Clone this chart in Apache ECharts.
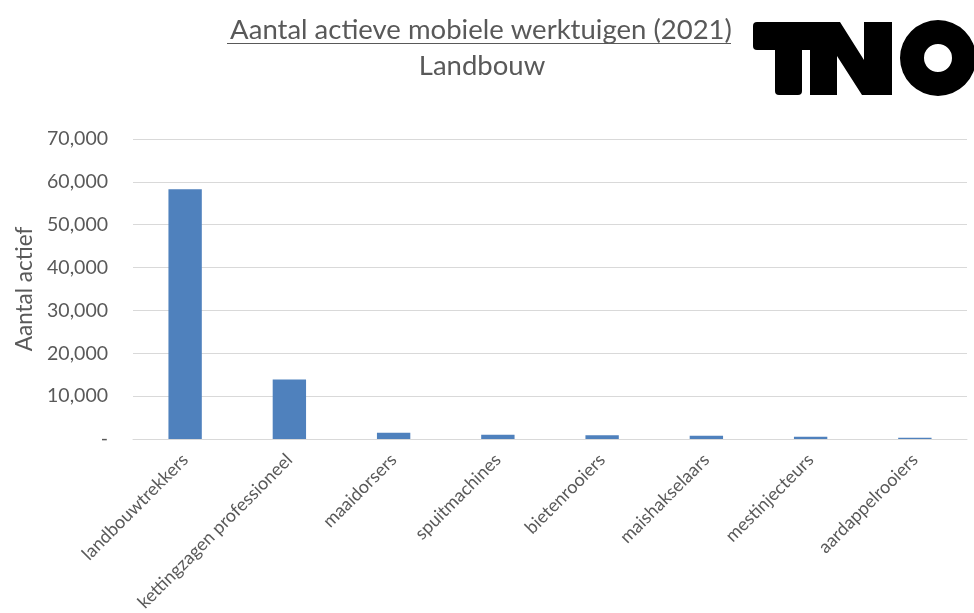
<!DOCTYPE html>
<html>
<head>
<meta charset="utf-8">
<script src="https://cdn.jsdelivr.net/npm/echarts@6/dist/echarts.min.js"></script>
<style>
  html, body { margin: 0; padding: 0; background: #fff; }
  #chart { width: 974px; height: 613px; }
</style>
</head>
<body>
<div id="chart"></div>
<script>
// Machine categories (agriculture)
const categories = [
  'landbouwtrekkers',
  'kettingzagen professioneel',
  'maaidorsers',
  'spuitmachines',
  'bietenrooiers',
  'maishakselaars',
  'mestinjecteurs',
  'aardappelrooiers'
];

// Number of active machines per category, 2021
const activeCounts = [58300, 13900, 1450, 1000, 850, 750, 550, 300];

// Value axis ticks
const yTicks = [0, 10000, 20000, 30000, 40000, 50000, 60000, 70000];

const titleText = 'Aantal actieve mobiele werktuigen (2021)';
const subtitleText = 'Landbouw';
const yAxisName = 'Aantal actief';

const FONT = 'Lato, "Open Sans", sans-serif';
const TEXT_COLOR = '#595959';

const chart = echarts.init(document.getElementById('chart'), null, { renderer: 'canvas' });

function fmtTick(v) {
  if (v === 0) return '-';
  return v.toLocaleString('en-US');
}

chart.setOption({
  backgroundColor: '#ffffff',
  animation: false,
  title: [
    {
      text: titleText,
      left: 476, top: 11, textAlign: 'center',
      textStyle: { fontFamily: FONT, fontSize: 27.5, fontWeight: 'normal', color: TEXT_COLOR }
    },
    {
      text: subtitleText,
      left: 477, top: 47, textAlign: 'center',
      textStyle: { fontFamily: FONT, fontSize: 27.5, fontWeight: 'normal', color: TEXT_COLOR }
    }
  ],
  grid: { left: 133, right: 7, top: 139, bottom: 174, containLabel: false, outerBoundsMode: 'none' },
  xAxis: {
    type: 'category',
    data: categories,
    boundaryGap: true,
    axisLine: { show: true, lineStyle: { color: '#d9d9d9', width: 1 } },
    axisTick: { show: false },
    axisLabel: {
      rotate: 45,
      interval: 0,
      margin: 18,
      fontFamily: FONT,
      fontSize: 18,
      color: TEXT_COLOR
    }
  },
  yAxis: {
    type: 'value',
    min: 0,
    max: yTicks[yTicks.length - 1],
    interval: yTicks[1] - yTicks[0],
    name: yAxisName,
    nameLocation: 'middle',
    nameGap: 97,
    nameRotate: 90,
    nameTextStyle: { fontFamily: FONT, fontSize: 22.5, color: TEXT_COLOR },
    axisLine: { show: false },
    axisTick: { show: false },
    splitLine: { show: true, lineStyle: { color: '#d9d9d9', width: 1 } },
    axisLabel: {
      formatter: fmtTick,
      margin: 25,
      fontFamily: FONT,
      fontSize: 19.5,
      color: TEXT_COLOR
    }
  },
  series: [
    {
      type: 'bar',
      data: activeCounts,
      barWidth: '32%',
      itemStyle: { color: '#4F81BD' }
    }
  ],
  graphic: [
    // underline of the main title
    {
      type: 'line',
      shape: { x1: 227, y1: 43.5, x2: 731, y2: 43.5 },
      style: { stroke: TEXT_COLOR, lineWidth: 1 }
    },
    // TNO logo
    {
      type: 'group',
      children: [
        { type: 'rect', shape: { x: 753, y: 22, width: 62, height: 28, r: 4 }, style: { fill: '#000' } },
        { type: 'rect', shape: { x: 775, y: 22, width: 27, height: 73, r: 4 }, style: { fill: '#000' } },
        {
          type: 'polygon',
          shape: {
            points: [[810, 22], [840, 22], [864, 60], [864, 22], [892, 22], [892, 95],
                     [862, 95], [837, 56], [837, 95], [810, 95]]
          },
          style: { fill: '#000' }
        },
        { type: 'ring', shape: { cx: 938, cy: 58, r: 38, r0: 14 }, style: { fill: '#000' } }
      ]
    }
  ]
});
</script>
</body>
</html>
